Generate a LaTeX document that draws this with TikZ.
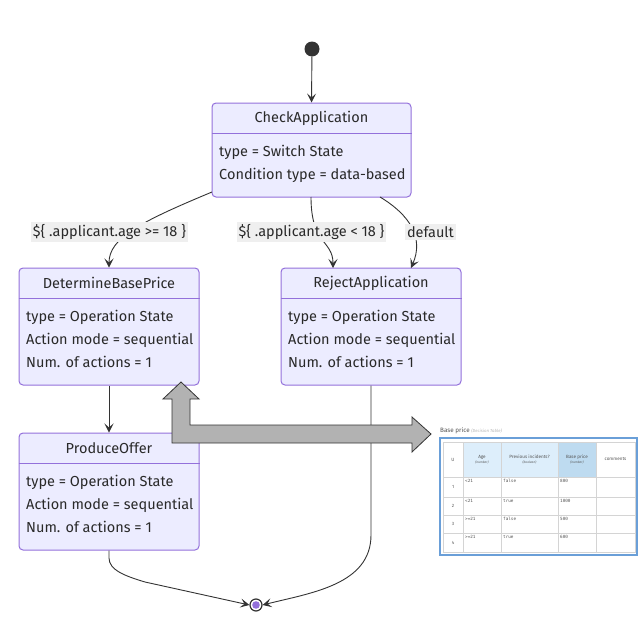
\documentclass[tikz,border=0pt]{standalone}
\usepackage{fontspec}
\setmainfont{Fira Sans}
\setmonofont{DejaVu Sans Mono}
\usetikzlibrary{arrows.meta}
\definecolor{boxfill}{HTML}{ECECFF}
\definecolor{boxline}{HTML}{9370DB}
\definecolor{edgec}{HTML}{333333}
\definecolor{lblbg}{HTML}{EFEFEF}
\definecolor{hdrA}{HTML}{DDEEFB}
\definecolor{hdrB}{HTML}{BEDBF0}
\definecolor{tblblue}{HTML}{6A9FD8}
\definecolor{gridc}{HTML}{D4D4D4}
\definecolor{txtgray}{HTML}{555555}
\tikzset{
  statebox/.style={draw=boxline, fill=boxfill, line width=1pt, rounded corners=4pt, inner sep=0pt},
  stitle/.style={font=\fontsize{14.5}{16}\selectfont, text=edgec!80!black, inner sep=0pt},
  sline/.style={font=\fontsize{14.5}{16}\selectfont, text=edgec!80!black, anchor=west, inner sep=0pt},
  edge/.style={draw=edgec, line width=0.9pt, -{Stealth[length=9pt,width=9pt,inset=4pt]}},
  elabel/.style={fill=lblbg, font=\fontsize{14.5}{16}\selectfont, text=edgec!80!black, inner sep=2pt},
  tcell/.style={font=\fontsize{4.6}{5.5}\selectfont, text=txtgray, inner sep=0pt},
  tmono/.style={font=\ttfamily\fontsize{4.3}{5}\selectfont, text=txtgray, anchor=north west, inner sep=0pt},
}
\begin{document}
\begin{tikzpicture}[x=1pt,y=-1pt]
\useasboundingbox (0,0) rectangle (641,627);

% start / end
\node[circle, fill=edgec, minimum size=15pt, inner sep=0pt] (start) at (312,49) {};
\node[circle, draw=edgec, line width=1.2pt, fill=white, minimum size=12pt, inner sep=0pt] (end) at (256,605) {};
\fill[boxline] (end.center) circle (3.8pt);

% CheckApplication
\node[statebox, minimum width=199pt, minimum height=94pt] (ca) at (311.5,150) {};
\draw[boxline, line width=1pt] (ca.west |- 0,133) -- (ca.east |- 0,133);
\node[stitle] (catitle) at (311.5,118) {CheckApplication};
\node[sline] (ca1) at (219,152) {type = Switch State};
\node[sline] (ca2) at (219,175) {Condition type = data-based};

% DetermineBasePrice
\node[statebox, minimum width=180pt, minimum height=117pt] (dbp) at (109,326.5) {};
\draw[boxline, line width=1pt] (dbp.west |- 0,298) -- (dbp.east |- 0,298);
\node[stitle] (dbptitle) at (109,283) {DetermineBasePrice};
\node[sline] (dbp1) at (26,317) {type = Operation State};
\node[sline] (dbp2) at (26,340) {Action mode = sequential};
\node[sline] (dbp3) at (26,362) {Num. of actions = 1};

% RejectApplication
\node[statebox, minimum width=180pt, minimum height=117pt] (ra) at (371,326.5) {};
\draw[boxline, line width=1pt] (ra.west |- 0,298) -- (ra.east |- 0,298);
\node[stitle] (ratitle) at (371,283) {RejectApplication};
\node[sline] (ra1) at (288,317) {type = Operation State};
\node[sline] (ra2) at (288,340) {Action mode = sequential};
\node[sline] (ra3) at (288,362) {Num. of actions = 1};

% ProduceOffer
\node[statebox, minimum width=180pt, minimum height=117pt] (po) at (109,491.5) {};
\draw[boxline, line width=1pt] (po.west |- 0,463) -- (po.east |- 0,463);
\node[stitle] (potitle) at (109,448) {ProduceOffer};
\node[sline] (po1) at (26,482) {type = Operation State};
\node[sline] (po2) at (26,505) {Action mode = sequential};
\node[sline] (po3) at (26,527) {Num. of actions = 1};

% edges
\draw[edge] (start) -- (ca.north);
\draw[edge] (212,192) .. controls (140,222) and (109,238) .. (dbp.north);
\draw[edge] (311,197) .. controls (311,245) and (333,240) .. (333,268);
\draw[edge] (380,197) .. controls (410,215) and (424,238) .. (411,268);
\draw[edge] (dbp.south) -- (po.north);
\draw[edge] (po.south) -- (109,558) .. controls (109,570) and (125,576) .. (145,582) -- (end.west);
\draw[edge] (ra.south) -- (371,535) .. controls (371,585) and (310,593) .. (end.east);

% edge labels
\node[elabel] (l1) at (109.5,232) {\$\{ .applicant.age >= 18 \}};
\node[elabel] (l2) at (311.5,232) {\$\{ .applicant.age < 18 \}};
\node[elabel] (l3) at (430.5,232) {default};

% gray double arrow
\draw[fill=gray!60, draw=edgec, line width=0.8pt, line join=miter]
  (181,382) -- (199,399) -- (190,399) -- (190,425) -- (412,425) -- (412,417)
  -- (431,434) -- (412,452) -- (412,443) -- (172,443) -- (172,399) -- (163,399) -- cycle;

% decision table
\node[anchor=west, inner sep=0pt, font=\fontsize{6.3}{7}\selectfont, text=txtgray] (ttitle) at (440,431)
  {Base price {\color{gray!60}\fontsize{4.3}{5}\selectfont\itshape (Decision Table)}};
\draw[tblblue, line width=1.3pt] (440,438) rectangle (637,555);
\fill[hdrA] (463,442) rectangle (558,477);
\fill[hdrB] (558,442) rectangle (596,477);
\draw[gridc, line width=0.5pt] (443,442) rectangle (635,552);
\foreach \xx in {463,501,558,596} \draw[gridc, line width=0.5pt] (\xx,442) -- (\xx,552);
\foreach \yy in {477,497,515,533} \draw[gridc, line width=0.5pt] (443,\yy) -- (635,\yy);
\node[tcell] (hu) at (453,459.5) {U};
\node[tcell, align=center] (hage) at (482,459.5) {Age\\[-0.8pt]{\fontsize{3.2}{4}\selectfont\itshape (number)}};
\node[tcell, align=center] (hprev) at (529.5,459.5) {Previous incidents?\\[-0.8pt]{\fontsize{3.2}{4}\selectfont\itshape (boolean)}};
\node[tcell, align=center] (hbase) at (577,459.5) {Base price\\[-0.8pt]{\fontsize{3.2}{4}\selectfont\itshape (number)}};
\node[tcell] (hcom) at (615.5,459.5) {comments};
\node[tcell] (r1) at (453,487) {1};
\node[tcell] (r2) at (453,506) {2};
\node[tcell] (r3) at (453,524) {3};
\node[tcell] (r4) at (453,542.5) {4};
\node[tmono] (a1) at (465,479.5) {<21};
\node[tmono] (a2) at (465,499) {<21};
\node[tmono] (a3) at (465,517) {>=21};
\node[tmono] (a4) at (465,535) {>=21};
\node[tmono] (p1) at (503,479.5) {false};
\node[tmono] (p2) at (503,499) {true};
\node[tmono] (p3) at (503,517) {false};
\node[tmono] (p4) at (503,535) {true};
\node[tmono] (b1) at (560,479.5) {800};
\node[tmono] (b2) at (560,499) {1000};
\node[tmono] (b3) at (560,517) {500};
\node[tmono] (b4) at (560,535) {600};
\end{tikzpicture}
\end{document}
